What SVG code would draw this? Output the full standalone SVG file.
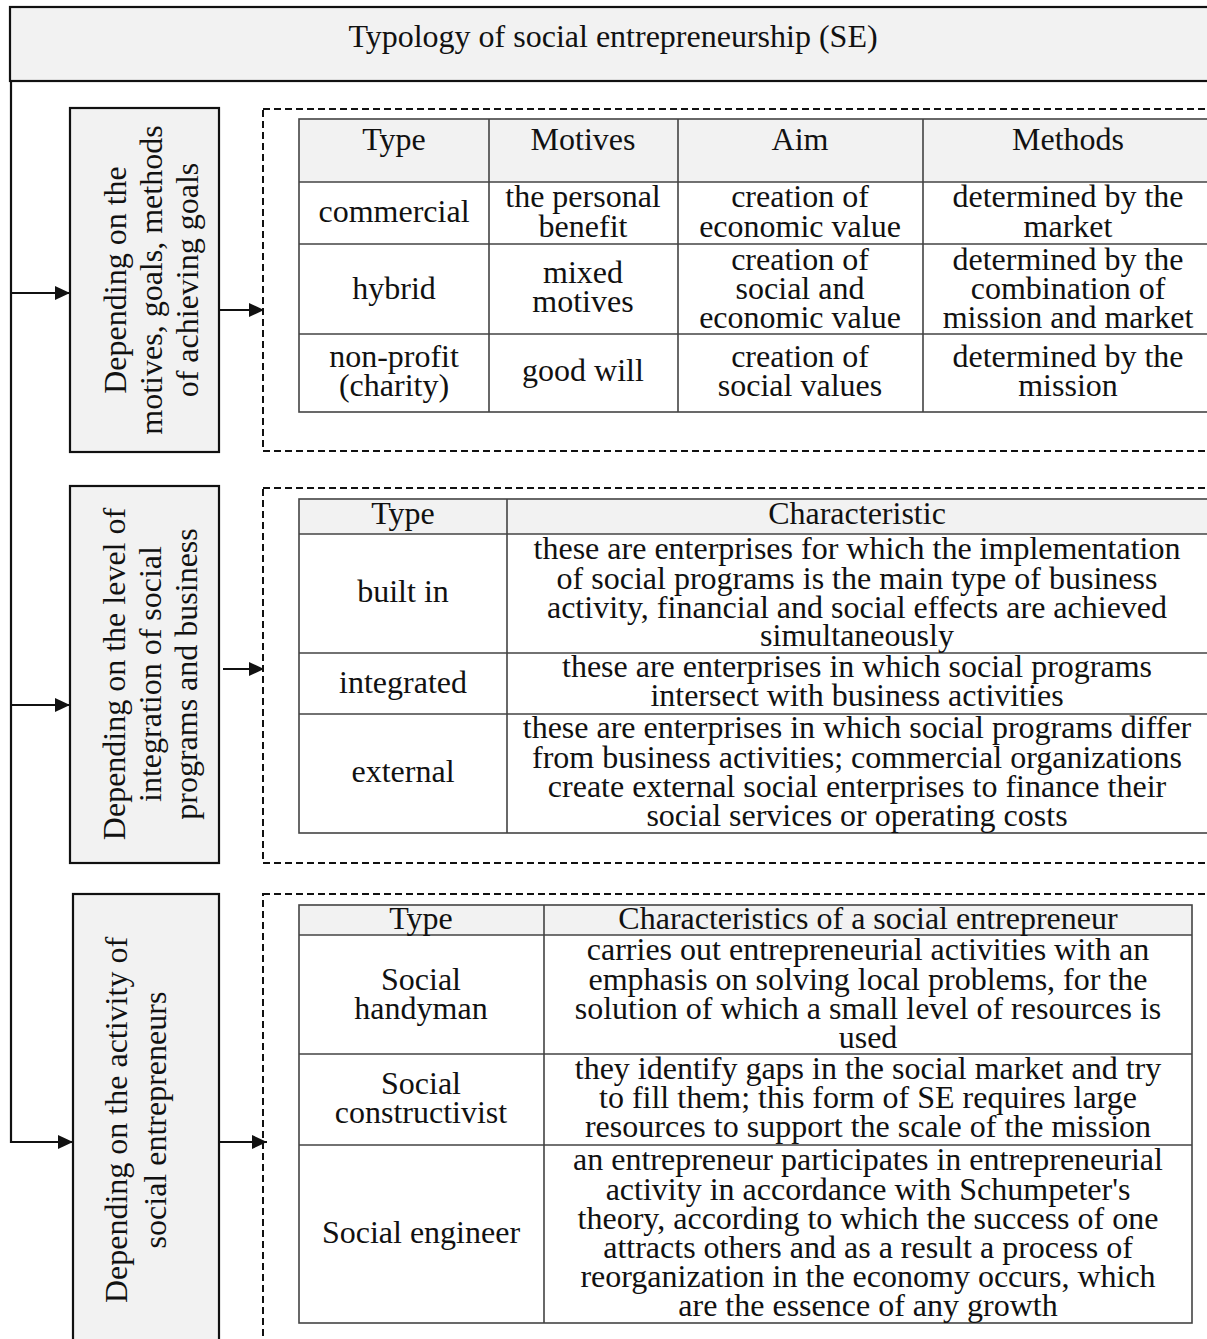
<svg xmlns="http://www.w3.org/2000/svg" width="1207" height="1339" viewBox="0 0 1207 1339">
<style>
  text { font-family: "Liberation Serif", "Times New Roman", serif; font-size: 32px; fill: #111; text-anchor: middle; }
  .hdr { fill: #f2f2f2; stroke: #111; stroke-width: 2.2; }
  .box { fill: #f2f2f2; stroke: #111; stroke-width: 2.2; }
  .dash { fill: none; stroke: #111; stroke-width: 2; stroke-dasharray: 7 4; }
  .tbl { fill: none; stroke: #444; stroke-width: 1.6; }
  .th { fill: #f2f2f2; stroke: none; }
  .conn { fill: none; stroke: #111; stroke-width: 2.2; }
</style>
<defs>
  <marker id="ah" markerUnits="userSpaceOnUse" markerWidth="15" markerHeight="14" refX="15" refY="7" orient="auto">
    <path d="M0,0 L15,7 L0,14 Z" fill="#111"/>
  </marker>
</defs>
<rect width="1207" height="1339" fill="#fff"/>

<g id="title">
  <rect class="hdr" x="10" y="7" width="1210" height="74"/>
  <text x="613" y="47">Typology of social entrepreneurship (SE)</text>
</g>

<g id="connectors">
  <path class="conn" d="M11,81 L11,1142 L73,1142" marker-end="url(#ah)"/>
  <path class="conn" d="M11,293 L70,293" marker-end="url(#ah)"/>
  <path class="conn" d="M11,705 L70,705" marker-end="url(#ah)"/>
  <path class="conn" d="M219,310 L264,310" marker-end="url(#ah)"/>
  <path class="conn" d="M223,669 L264,669" marker-end="url(#ah)"/>
  <path class="conn" d="M219,1142 L267,1142" marker-end="url(#ah)"/>
</g>

<g id="criterion1">
  <rect class="box" x="70" y="108" width="149" height="344"/>
  <g transform="translate(0,280) rotate(-90)">
    <text x="0" y="126">Depending on the</text>
    <text x="0" y="162">motives, goals, methods</text>
    <text x="0" y="198">of achieving goals</text>
  </g>
</g>

<g id="criterion2">
  <rect class="box" x="70" y="486" width="149" height="377"/>
  <g transform="translate(0,674) rotate(-90)">
    <text x="0" y="125">Depending on the level of</text>
    <text x="0" y="161">integration of social</text>
    <text x="0" y="197">programs and business</text>
  </g>
</g>

<g id="criterion3">
  <rect class="box" x="73" y="894" width="146" height="460"/>
  <g transform="translate(0,1120) rotate(-90)">
    <text x="0" y="127">Depending on the activity of</text>
    <text x="0" y="166">social entrepreneurs</text>
  </g>
</g>

<g id="table1">
  <rect class="dash" x="263" y="109" width="960" height="342"/>
  <rect class="th" x="299" y="119" width="914" height="63"/>
  <rect class="tbl" x="299" y="119" width="914" height="293"/>
  <path class="tbl" d="M299,182 H1213 M299,244 H1213 M299,334 H1213 M489,119 V412 M678,119 V412 M923,119 V412"/>
  <text x="394" y="150">Type</text>
  <text x="583" y="150">Motives</text>
  <text x="800" y="150">Aim</text>
  <text x="1068" y="150">Methods</text>

  <text x="394" y="222">commercial</text>
  <text x="583" y="207">the personal</text>
  <text x="583" y="237">benefit</text>
  <text x="800" y="207">creation of</text>
  <text x="800" y="237">economic value</text>
  <text x="1068" y="207">determined by the</text>
  <text x="1068" y="237">market</text>

  <text x="394" y="299">hybrid</text>
  <text x="583" y="283">mixed</text>
  <text x="583" y="312">motives</text>
  <text x="800" y="270">creation of</text>
  <text x="800" y="299">social and</text>
  <text x="800" y="328">economic value</text>
  <text x="1068" y="270">determined by the</text>
  <text x="1068" y="299">combination of</text>
  <text x="1068" y="328">mission and market</text>

  <text x="394" y="367">non-profit</text>
  <text x="394" y="396">(charity)</text>
  <text x="583" y="381">good will</text>
  <text x="800" y="367">creation of</text>
  <text x="800" y="396">social values</text>
  <text x="1068" y="367">determined by the</text>
  <text x="1068" y="396">mission</text>
</g>

<g id="table2">
  <rect class="dash" x="263" y="488" width="960" height="375"/>
  <rect class="th" x="299" y="499" width="914" height="35"/>
  <rect class="tbl" x="299" y="499" width="914" height="334"/>
  <path class="tbl" d="M299,534 H1213 M299,653 H1213 M299,714 H1213 M507,499 V833"/>
  <text x="403" y="524">Type</text>
  <text x="857" y="524">Characteristic</text>

  <text x="403" y="602">built in</text>
  <text x="857" y="559">these are enterprises for which the implementation</text>
  <text x="857" y="589">of social programs is the main type of business</text>
  <text x="857" y="618">activity, financial and social effects are achieved</text>
  <text x="857" y="646">simultaneously</text>

  <text x="403" y="693">integrated</text>
  <text x="857" y="677">these are enterprises in which social programs</text>
  <text x="857" y="706">intersect with business activities</text>

  <text x="403" y="782">external</text>
  <text x="857" y="738">these are enterprises in which social programs differ</text>
  <text x="857" y="768">from business activities; commercial organizations</text>
  <text x="857" y="797">create external social enterprises to finance their</text>
  <text x="857" y="826">social services or operating costs</text>
</g>

<g id="table3">
  <rect class="dash" x="263" y="894" width="960" height="460"/>
  <rect class="th" x="299" y="905" width="893" height="30"/>
  <rect class="tbl" x="299" y="905" width="893" height="418"/>
  <path class="tbl" d="M299,935 H1192 M299,1054 H1192 M299,1145 H1192 M544,905 V1323"/>
  <text x="421" y="929">Type</text>
  <text x="868" y="929">Characteristics of a social entrepreneur</text>

  <text x="421" y="990">Social</text>
  <text x="421" y="1019">handyman</text>
  <text x="868" y="960">carries out entrepreneurial activities with an</text>
  <text x="868" y="990">emphasis on solving local problems, for the</text>
  <text x="868" y="1019">solution of which a small level of resources is</text>
  <text x="868" y="1048">used</text>

  <text x="421" y="1094">Social</text>
  <text x="421" y="1123">constructivist</text>
  <text x="868" y="1079">they identify gaps in the social market and try</text>
  <text x="868" y="1108">to fill them; this form of SE requires large</text>
  <text x="868" y="1137">resources to support the scale of the mission</text>

  <text x="421" y="1243">Social engineer</text>
  <text x="868" y="1170">an entrepreneur participates in entrepreneurial</text>
  <text x="868" y="1200">activity in accordance with Schumpeter's</text>
  <text x="868" y="1229">theory, according to which the success of one</text>
  <text x="868" y="1258">attracts others and as a result a process of</text>
  <text x="868" y="1287">reorganization in the economy occurs, which</text>
  <text x="868" y="1316">are the essence of any growth</text>
</g>
</svg>
